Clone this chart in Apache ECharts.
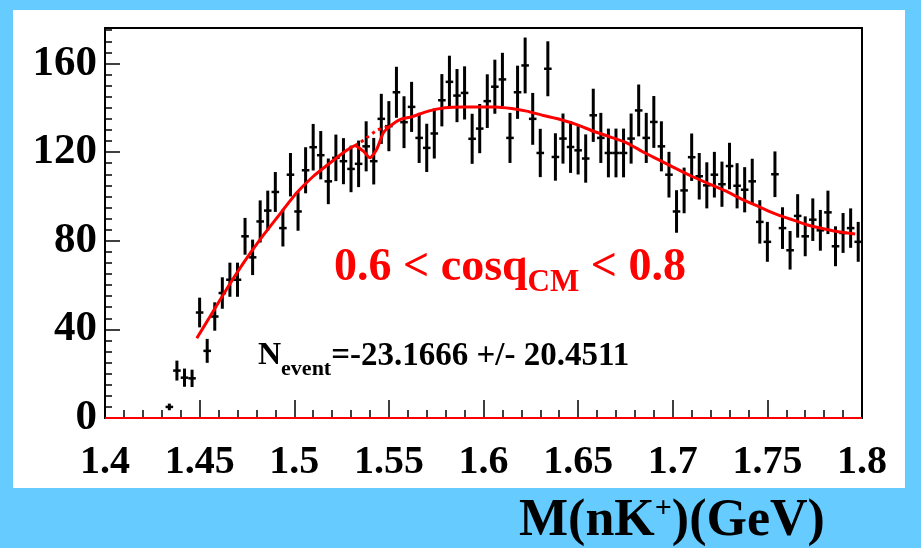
<!DOCTYPE html>
<html>
<head>
<meta charset="utf-8">
<script src="https://cdn.jsdelivr.net/npm/echarts@6/dist/echarts.min.js"></script>
<style>
  html, body { margin: 0; padding: 0; background: #66CCFF; }
  #chart { width: 921px; height: 548px; }
</style>
</head>
<body>
<div id="chart"></div>
<script>
// Histogram of M(nK+): bins of 4 MeV, first filled bin centred at 1.434 GeV
const firstBinCenter = 1.434;
const binWidth = 0.004;

const counts = [
  5, 21.4, 18.2, 17.9, 47.6, 30.3, 45.8, 56.4, 62.4, 62.4,
  82, 72.5, 88.7, 93.6, 102, 85.7, 109.8, 93.2, 111.8, 122.2,
  118.6, 106.8, 117.4, 115.9, 112.4, 114.7, 122.6, 115.9, 135, 131.7,
  147, 133.5, 140.4, 126.4, 121.9, 128.4, 143.4, 151.7, 145.5, 146.7,
  126, 130.6, 143, 149.5, 152.8, 126.4, 147, 159.1, 135, 119.6,
  157.6, 117.8, 126.1, 122.3, 120.8, 117.1, 136.6, 126.4, 119.6, 119.6,
  119.6, 126.1, 138.8, 126.4, 133.6, 122.6, 109.8, 93.2, 102.7, 117.7,
  109.1, 105, 109.8, 105.5, 113.7, 104.8, 103, 106.8, 88.5, 79.5,
  110, 85.7, 75.7, 91.2, 82, 89.5, 84.7, 92.8, 77.5, 83.5,
  85.7, 79.5
];

const errors = [
  1.5, 4.5, 4.1, 3.9, 6.7, 5.4, 6.4, 7.1, 7.7, 7.7,
  8.3, 8.0, 9.5, 9.0, 9.0, 8.3, 9.8, 8.7, 10.4, 10.5,
  10.9, 10.3, 10.5, 10.4, 10.5, 10.5, 11.3, 10.5, 11.3, 11.3,
  11.5, 11.7, 11.3, 11.3, 10.9, 11.3, 11.8, 11.8, 12.0, 12.0,
  11.3, 11.1, 12.1, 12.2, 12.0, 11.3, 12.0, 12.6, 11.7, 10.9,
  12.4, 10.7, 11.3, 11.7, 10.9, 10.9, 12.0, 11.3, 11.0, 11.0,
  11.0, 11.3, 11.7, 11.3, 11.7, 11.3, 10.3, 9.6, 10.3, 10.7,
  10.5, 10.4, 10.3, 10.2, 10.5, 10.2, 10.2, 10.2, 9.8, 9.0,
  10.3, 9.4, 8.7, 9.8, 9.0, 9.6, 9.2, 9.8, 9.0, 9.0,
  8.9, 9.0
];

// Fit: background + signal (negative yield dip near 1.54 GeV)
const fitMass = [
  1.4485, 1.4555, 1.4643, 1.4731, 1.4819, 1.4910, 1.5013, 1.5101, 1.5189, 1.5277,
  1.5321, 1.5365, 1.5400, 1.5435, 1.5471, 1.5506, 1.5559, 1.5620, 1.5708, 1.5797,
  1.5885, 1.5973, 1.6061, 1.6149, 1.6228, 1.6317, 1.6405, 1.6493, 1.6581, 1.6668,
  1.6757, 1.6836, 1.6924, 1.7012, 1.7100, 1.7188, 1.7276, 1.7364, 1.7444, 1.7532,
  1.7620, 1.7708, 1.7796, 1.7884, 1.7964
];
const fitValue = [
  36.0, 45.8, 58.2, 69.9, 80.5, 90.5, 101.6, 109.1, 115.1, 120.8,
  122.9, 120.4, 117.4, 121.1, 128.7, 131.7, 134.7, 135.9, 138.5, 140.0,
  140.4, 140.4, 140.4, 139.7, 138.5, 136.5, 134.7, 132.4, 129.4, 126.9,
  124.2, 120.4, 116.6, 112.8, 109.1, 105.8, 102.6, 98.8, 95.8, 92.5,
  89.8, 87.2, 85.4, 83.9, 83.0
];

// Background-only component under the dip
const bgMass = [1.5321, 1.5370, 1.5440, 1.5506];
const bgValue = [122.9, 125.6, 129.9, 131.7];

// Zero line along the bottom of the frame
const zeroMass = [1.4, 1.8];
const zeroValue = [0, 0];

const xTicks = { min: 1.4, max: 1.8, step: 0.05 };
const yTicks = { min: 0, max: 176, step: 40, minorStep: 5 };

const cutMain = '0.6 < cosq';
const cutSub = 'CM';
const cutTail = ' < 0.8';
const yieldMain = 'N';
const yieldSub = 'event';
const yieldTail = '=-23.1666 +/- 20.4511';
const titleMain = 'M(nK';
const titleSup = '+';
const titleTail = ')(GeV)';

const SERIF = '"Liberation Serif", "Times New Roman", "DejaVu Serif", serif';

const measureCtx = document.createElement('canvas').getContext('2d');
function textWidth(str, size) {
  measureCtx.font = 'bold ' + size + 'px ' + SERIF;
  return measureCtx.measureText(str).width;
}

// Lay a row of text runs side by side; each run: [text, size, colour, middleY]
function textRow(x0, runs) {
  const out = [];
  let x = x0;
  runs.forEach(function (r) {
    out.push({
      type: 'text',
      z: 100,
      silent: true,
      style: {
        text: r[0], x: x, y: r[3],
        font: 'bold ' + r[1] + 'px ' + SERIF,
        fill: r[2],
        align: 'left', verticalAlign: 'middle',
        textAlign: 'left', textVerticalAlign: 'middle'
      }
    });
    x += textWidth(r[0], r[1]);
  });
  return out;
}

const chart = echarts.init(document.getElementById('chart'), null, { renderer: 'canvas' });

const pointData = counts.map(function (v, i) {
  return [firstBinCenter + i * binWidth, v, errors[i]];
});

const xAxisFont = { fontSize: 40, fontWeight: 'bold', fontFamily: SERIF, color: '#000' };
const yAxisFont = { fontSize: 43, fontWeight: 'bold', fontFamily: SERIF, color: '#000' };

const graphics = [
  { type: 'rect', z: -10, silent: true, shape: { x: 13, y: 10, width: 892, height: 478 }, style: { fill: '#ffffff' } }
]
  .concat(textRow(334, [
    [cutMain, 46, '#ff0000', 268],
    [cutSub, 31, '#ff0000', 282.5],
    [cutTail, 46, '#ff0000', 268]
  ]))
  .concat(textRow(258, [
    [yieldMain, 32, '#000000', 356],
    [yieldSub, 22, '#000000', 369.5],
    [yieldTail, 33, '#000000', 356]
  ]))
  .concat(textRow(519, [
    [titleMain, 52, '#000000', 522],
    [titleSup, 30, '#000000', 509],
    [titleTail, 52, '#000000', 522]
  ]));

const option = {
  animation: false,
  backgroundColor: '#66CCFF',
  grid: {
    left: 105, top: 28, width: 757, height: 390,
    show: true, borderColor: '#000', borderWidth: 2, backgroundColor: 'transparent'
  },
  xAxis: {
    type: 'value',
    min: xTicks.min, max: xTicks.max, interval: xTicks.step,
    axisLine: { onZero: false, lineStyle: { color: '#000', width: 2 } },
    axisTick: { inside: true, length: 18, lineStyle: { color: '#000', width: 1.5 } },
    minorTick: { show: true, splitNumber: 5, length: 8, lineStyle: { color: '#000', width: 1.5 } },
    splitLine: { show: false },
    axisLabel: Object.assign({ margin: 25 }, xAxisFont)
  },
  yAxis: [
    {
      type: 'value', position: 'left',
      min: yTicks.min, max: yTicks.max, interval: yTicks.step,
      axisLine: { show: true, lineStyle: { color: '#000', width: 2 } },
      axisTick: { show: true, inside: true, length: 15, lineStyle: { color: '#000', width: 1.5 } },
      splitLine: { show: false },
      axisLabel: Object.assign({ margin: 8, showMaxLabel: false }, yAxisFont)
    },
    {
      type: 'value', position: 'left',
      min: yTicks.min, max: yTicks.max, interval: yTicks.minorStep,
      axisLine: { show: false },
      axisTick: { show: true, inside: true, length: 7, lineStyle: { color: '#000', width: 1.5 } },
      splitLine: { show: false },
      axisLabel: { show: false }
    }
  ],
  graphic: graphics,
  series: [
    {
      type: 'custom',
      name: 'data',
      yAxisIndex: 0,
      data: pointData,
      encode: { x: 0, y: 1 },
      z: 3,
      renderItem: function (params, api) {
        const x = api.value(0), y = api.value(1), e = api.value(2);
        const c = api.coord([x, y]);
        const lo = api.coord([x, y - e]);
        const hi = api.coord([x, y + e]);
        const l = api.coord([x - binWidth / 2, y]);
        const r = api.coord([x + binWidth / 2, y]);
        return {
          type: 'group',
          children: [
            { type: 'line', shape: { x1: c[0], y1: lo[1], x2: c[0], y2: hi[1] }, style: { stroke: '#000', lineWidth: 3 } },
            { type: 'line', shape: { x1: l[0], y1: c[1], x2: r[0], y2: c[1] }, style: { stroke: '#000', lineWidth: 2.5 } }
          ]
        };
      }
    },
    {
      type: 'line', name: 'fit', yAxisIndex: 0, z: 5,
      data: fitMass.map(function (m, i) { return [m, fitValue[i]]; }),
      showSymbol: false, smooth: 0.2,
      lineStyle: { color: '#ff0000', width: 3 }
    },
    {
      type: 'line', name: 'background', yAxisIndex: 0, z: 5,
      data: bgMass.map(function (m, i) { return [m, bgValue[i]]; }),
      showSymbol: false, smooth: 0.3,
      lineStyle: { color: '#ff0000', width: 3, type: [3, 4] }
    },
    {
      type: 'line', name: 'zero', yAxisIndex: 0, z: 6,
      data: zeroMass.map(function (m, i) { return [m, zeroValue[i]]; }),
      showSymbol: false,
      lineStyle: { color: '#ff0000', width: 2 }
    }
  ]
};

chart.setOption(option);
</script>
</body>
</html>
